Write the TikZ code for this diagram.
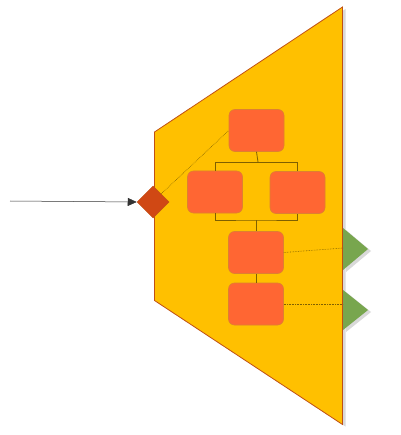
\documentclass[tikz,border=0pt]{standalone}
\usetikzlibrary{arrows.meta, shapes, positioning, shadows}
\usepackage{xcolor}
\definecolor{panelgold}{RGB}{255,192,0}
\definecolor{panelrim}{RGB}{192,80,20}
\definecolor{boxorange}{RGB}{255,102,51}
\definecolor{boxrim}{RGB}{222,128,48}
\definecolor{portred}{RGB}{208,72,20}
\definecolor{portgreen}{RGB}{120,166,78}
\definecolor{treeline}{RGB}{127,96,0}
\tikzset{orgbox/.style={rectangle, rounded corners=6pt, fill=boxorange, draw=boxrim, line width=0.6pt, minimum width=55pt, minimum height=42pt, inner sep=0pt},
portdiamond/.style={diamond, fill=portred, draw=panelrim, line width=0.5pt, minimum width=32pt, minimum height=32pt, inner sep=0pt}}

\begin{document}
\begin{tikzpicture}[
        x=1pt, y=-1pt,
        line join=miter,
        treelink/.style={draw=treeline, line width=0.8pt},
        dottedlink/.style={draw=treeline, line width=0.6pt, densely dotted},
        softshadow/.style={drop shadow={opacity=0.3, shadow xshift=3pt, shadow yshift=-2pt}}
    ]
        \useasboundingbox (0,0) rectangle (400,435);
        % Panel
        \path[fill=panelgold, draw=panelrim, line width=0.8pt, softshadow]
            (154.5,132) -- (342.5,7) -- (342.5,424.5) -- (154.5,300.5) -- cycle;
        % Output ports
        \path[fill=portgreen, softshadow] (343,228) -- (368,249) -- (343,270) -- cycle;
        \path[fill=portgreen, softshadow] (343,290) -- (368,310) -- (343,330) -- cycle;
        \coordinate (out1) at (343,248);
        \coordinate (out2) at (343,304);
        % Boxes
        \node[orgbox] (top) at (256.5,130.5) {};
        \node[orgbox] (left) at (215,192) {};
        \node[orgbox] (right) at (297.5,192.5) {};
        \node[orgbox] (mid) at (256,252.5) {};
        \node[orgbox] (low) at (256,304) {};
        % Tree links
        \coordinate (bar1) at (258,162);
        \coordinate (bar2) at (256,220);
        \draw[treelink] (top.south) -- (bar1);
        \draw[treelink] (bar1) -| (left.north);
        \draw[treelink] (bar1) -| (right.north);
        \draw[treelink] (left.south) |- (bar2) -| (right.south);
        \draw[treelink] (bar2) -- (mid.north);
        \draw[treelink] (mid.south) -- (low.north);
        % Input port
        \node[portdiamond] (inport) at (153,202) {};
        \coordinate (source) at (10,201);
        \draw[-{Triangle[length=9pt, width=8pt]}, line width=0.5pt, black!80] (source) -- (inport.west);
        % Dotted links
        \draw[dottedlink] (inport.north east) -- (top.west);
        \draw[dottedlink] (mid.east) -- (out1);
        \draw[dottedlink] (low.east) -- (out2);
    \end{tikzpicture}
\end{document}
